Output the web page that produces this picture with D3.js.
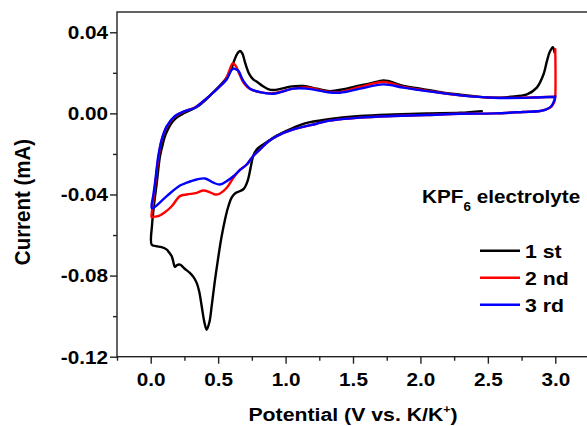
<!DOCTYPE html>
<html>
<head>
<meta charset="utf-8">
<script src="https://cdn.jsdelivr.net/npm/d3@7"></script>
<style>
  html, body { margin: 0; padding: 0; background: #fff; }
  svg { display: block; }
  text { font-family: "Liberation Sans", Arial, sans-serif; font-weight: bold; fill: #000; }
</style>
</head>
<body>
<svg id="chart" width="587" height="426"></svg>
<script>
// Cyclic voltammetry of the KPF6 cell, first three cycles (potential in V, current in mA)
const potential1 = [2.455, 2.294, 2.047, 1.80, 1.553, 1.306, 1.15, 1.058, 0.935, 0.835, 0.786, 0.76, 0.74, 0.72, 0.69, 0.655, 0.625, 0.60, 0.576, 0.551, 0.525, 0.502, 0.475, 0.452, 0.435, 0.415, 0.398, 0.378, 0.36, 0.341, 0.315, 0.29, 0.25, 0.217, 0.195, 0.18, 0.165, 0.156, 0.135, 0.119, 0.08, 0.04, 0.007,
  0.01, 0.018, 0.03, 0.045, 0.069, 0.09, 0.106, 0.13, 0.156, 0.19, 0.23, 0.29, 0.35, 0.40, 0.45, 0.50, 0.55, 0.59, 0.62, 0.645, 0.662, 0.68, 0.70, 0.73, 0.76, 0.79, 0.83, 0.87, 0.91, 0.97, 1.033, 1.132, 1.231, 1.33, 1.429, 1.553, 1.627, 1.69, 1.726, 1.76, 1.80, 1.874, 2.0, 2.171, 2.344, 2.54, 2.665, 2.79, 2.863, 2.913, 2.938, 2.96, 2.982, 2.995];
const current1 = [0.0011, 0.0003, 0.0, -0.0005, -0.0013, -0.003, -0.0048, -0.0071, -0.0109, -0.0153, -0.0178, -0.021, -0.027, -0.033, -0.0372, -0.0385, -0.0395, -0.0415, -0.0458, -0.0523, -0.061, -0.0705, -0.083, -0.0951, -0.103, -0.1067, -0.103, -0.0951, -0.088, -0.0836, -0.0805, -0.0787, -0.0765, -0.0746, -0.0748, -0.0757, -0.0725, -0.0705, -0.0685, -0.0672, -0.066, -0.0655, -0.0647,
  -0.055, -0.049, -0.042, -0.0342, -0.0211, -0.015, -0.0112, -0.0075, -0.0046, -0.0022, -0.0005, 0.0015, 0.0035, 0.0062, 0.0095, 0.0128, 0.0165, 0.0205, 0.0262, 0.0298, 0.0308, 0.0295, 0.025, 0.0195, 0.0168, 0.0155, 0.0135, 0.012, 0.0115, 0.0122, 0.0132, 0.0135, 0.0122, 0.011, 0.0119, 0.0138, 0.0148, 0.0158, 0.0163, 0.016, 0.0152, 0.0135, 0.0122, 0.0102, 0.0089, 0.0077, 0.0082, 0.0094, 0.0127, 0.0193, 0.0258, 0.0305, 0.0327, 0.030];

const potential2 = [3.0, 3.0, 2.995, 2.975, 2.95, 2.888, 2.76, 2.55, 2.294, 2.047, 1.80, 1.553, 1.306, 1.23, 1.058, 0.935, 0.87, 0.81, 0.76, 0.712, 0.66, 0.613, 0.564, 0.514, 0.477, 0.44, 0.39, 0.341, 0.267, 0.217, 0.156, 0.1, 0.056, 0.02, 0.007,
  0.01, 0.03, 0.055, 0.08, 0.12, 0.18, 0.25, 0.33, 0.39, 0.49, 0.55, 0.58, 0.608, 0.63, 0.66, 0.69, 0.737, 0.81, 0.91, 1.058, 1.157, 1.306, 1.404, 1.553, 1.726, 1.874, 2.047, 2.294, 2.54, 2.8, 2.99];
const current2 = [0.0316, 0.0085, 0.006, 0.0036, 0.0025, 0.0012, 0.0007, 0.0, -0.0002, -0.0008, -0.0013, -0.0021, -0.0038, -0.0051, -0.0079, -0.0112, -0.014, -0.0178, -0.021, -0.0252, -0.028, -0.0318, -0.0367, -0.0395, -0.04, -0.0389, -0.038, -0.0392, -0.04, -0.0408, -0.0458, -0.049, -0.0507, -0.051, -0.0512,
  -0.048, -0.037, -0.023, -0.0135, -0.0065, -0.0015, 0.001, 0.003, 0.006, 0.0119, 0.016, 0.0205, 0.0247, 0.0235, 0.019, 0.015, 0.012, 0.0105, 0.0099, 0.0122, 0.0128, 0.0108, 0.0105, 0.013, 0.0155, 0.013, 0.0112, 0.0089, 0.0077, 0.0078, 0.0082];

const potential3 = [3.0, 2.99, 2.97, 2.93, 2.888, 2.76, 2.55, 2.294, 2.047, 1.80, 1.553, 1.306, 1.23, 1.058, 0.935, 0.87, 0.81, 0.76, 0.712, 0.66, 0.613, 0.564, 0.514, 0.465, 0.403, 0.341, 0.267, 0.217, 0.119, 0.02, 0.007,
  0.02, 0.032, 0.056, 0.082, 0.119, 0.18, 0.254, 0.329, 0.39, 0.49, 0.564, 0.595, 0.613, 0.63, 0.65, 0.687, 0.737, 0.81, 0.91, 1.058, 1.157, 1.306, 1.404, 1.553, 1.726, 1.874, 2.047, 2.294, 2.54, 2.838, 3.0];
const current3 = [0.0085, 0.006, 0.0035, 0.0018, 0.0012, 0.0007, 0.0, -0.0002, -0.0008, -0.0013, -0.0021, -0.0038, -0.0051, -0.0079, -0.0112, -0.014, -0.0178, -0.021, -0.0252, -0.028, -0.031, -0.0334, -0.0351, -0.0342, -0.0321, -0.0326, -0.0342, -0.0356, -0.0408, -0.0466, -0.0466,
  -0.04, -0.0342, -0.0211, -0.0128, -0.0063, -0.0013, 0.0011, 0.0028, 0.006, 0.0119, 0.0168, 0.021, 0.0221, 0.0218, 0.021, 0.016, 0.0122, 0.0105, 0.0097, 0.0122, 0.0122, 0.0105, 0.0102, 0.0122, 0.0143, 0.0127, 0.011, 0.0089, 0.0077, 0.0078, 0.0082];

const seriesNames = ["1 st", "2 nd", "3 rd"];
const seriesColors = ["#000000", "#ff0000", "#0000ff"];

const xTicks = [0.0, 0.5, 1.0, 1.5, 2.0, 2.5, 3.0];
const xTickLabels = ["0.0", "0.5", "1.0", "1.5", "2.0", "2.5", "3.0"];
const xMinorTicks = [-0.25, 0.25, 0.75, 1.25, 1.75, 2.25, 2.75, 3.25];
const yTicks = [-0.12, -0.08, -0.04, 0.0, 0.04];
const yTickLabels = ["-0.12", "-0.08", "-0.04", "0.00", "0.04"];
const yMinorTicks = [-0.10, -0.06, -0.02, 0.02];

const xLabel = "Potential (V vs. K/K";
const yLabel = "Current (mA)";

// Layout
const plot = { left: 117, right: 589, top: 12, bottom: 356.7 };
const stretch = 1.12;   // glyphs are drawn slightly wide

const svg = d3.select("#chart");
svg.append("rect").attr("width", 587).attr("height", 426).attr("fill", "#fff");

const x = d3.scaleLinear().domain([-0.25, 3.25]).range([plot.left, plot.right]);
const y = d3.scaleLinear().domain([-0.12, 0.05]).range([plot.bottom, plot.top]);

const axisColor = "#222";

// Frame
svg.append("rect")
  .attr("x", plot.left).attr("y", plot.top)
  .attr("width", plot.right - plot.left).attr("height", plot.bottom - plot.top)
  .attr("fill", "none").attr("stroke", axisColor).attr("stroke-width", 1.4);

// Curves
const series = [
  { v: potential1, i: current1 },
  { v: potential2, i: current2 },
  { v: potential3, i: current3 }
];
const line = d3.line()
  .x(d => x(d[0]))
  .y(d => y(d[1]))
  .curve(d3.curveCatmullRom.alpha(0.5));

svg.append("clipPath").attr("id", "plotClip")
  .append("rect").attr("x", plot.left).attr("y", plot.top)
  .attr("width", plot.right - plot.left).attr("height", plot.bottom - plot.top);
const curves = svg.append("g").attr("clip-path", "url(#plotClip)");

series.forEach((s, k) => {
  const pts = s.v.map((v, j) => [v, s.i[j]]);
  curves.append("path")
    .attr("d", line(pts))
    .attr("fill", "none")
    .attr("stroke", seriesColors[k])
    .attr("stroke-width", 2.4)
    .attr("stroke-linejoin", "round")
    .attr("stroke-linecap", "round");
});

// Axes
function styleAxis(g) {
  g.select(".domain").remove();
  g.selectAll(".tick line").attr("stroke", axisColor).attr("stroke-width", 1.4);
}

const yAxis = svg.append("g")
  .attr("transform", `translate(${plot.left},0)`)
  .call(d3.axisLeft(y).tickValues(yTicks)
    .tickFormat((d, k) => yTickLabels[k]).tickSize(7).tickPadding(1));
styleAxis(yAxis);
yAxis.selectAll(".tick text")
  .attr("font-size", 18.5).attr("font-family", null).attr("fill", "#000")
  .attr("dy", null).attr("y", 6.4)
  .attr("transform", `scale(${stretch},1)`);

svg.append("g")
  .attr("transform", `translate(${plot.left},0)`)
  .call(d3.axisLeft(y).tickValues(yMinorTicks).tickFormat("").tickSize(4))
  .call(styleAxis);

const xAxis = svg.append("g")
  .attr("transform", `translate(0,${plot.bottom})`)
  .call(d3.axisBottom(x).tickValues(xTicks)
    .tickFormat((d, k) => xTickLabels[k]).tickSize(7));
styleAxis(xAxis);
xAxis.selectAll(".tick text")
  .attr("font-size", 18.5).attr("font-family", null).attr("fill", "#000")
  .attr("dy", null).attr("y", 29.5)
  .attr("transform", `scale(${stretch},1)`);

svg.append("g")
  .attr("transform", `translate(0,${plot.bottom})`)
  .call(d3.axisBottom(x).tickValues(xMinorTicks).tickFormat("").tickSize(4))
  .call(styleAxis);

// Axis titles
const xt = svg.append("text")
  .attr("transform", `translate(${(plot.left + plot.right) / 2},420.5) scale(${stretch},1)`)
  .attr("text-anchor", "middle")
  .attr("font-size", 19);
xt.append("tspan").text(xLabel);
xt.append("tspan").attr("font-size", 11).attr("dy", -8).text("+");
xt.append("tspan").attr("dy", 8).text(")");

svg.append("text")
  .attr("transform", `translate(29.5,202) rotate(-90) scale(1,${stretch})`)
  .attr("text-anchor", "middle")
  .attr("font-size", 20.5)
  .text(yLabel);

// Electrolyte note
const note = svg.append("text")
  .attr("transform", `translate(422,203) scale(${stretch},1)`)
  .attr("font-size", 18.5);
note.append("tspan").text("KPF");
note.append("tspan").attr("font-size", 12).attr("dy", 8).text("6");
note.append("tspan").attr("dy", -8).text(" electrolyte");

// Legend
const legend = svg.append("g");
seriesNames.forEach((name, k) => {
  const ly = 250.7 + k * 27;
  legend.append("line")
    .attr("x1", 480).attr("x2", 520).attr("y1", ly).attr("y2", ly)
    .attr("stroke", seriesColors[k]).attr("stroke-width", 2.6);
  legend.append("text")
    .attr("transform", `translate(525,${ly + 7}) scale(${stretch},1)`)
    .attr("font-size", 19)
    .text(name);
});
</script>
</body>
</html>
